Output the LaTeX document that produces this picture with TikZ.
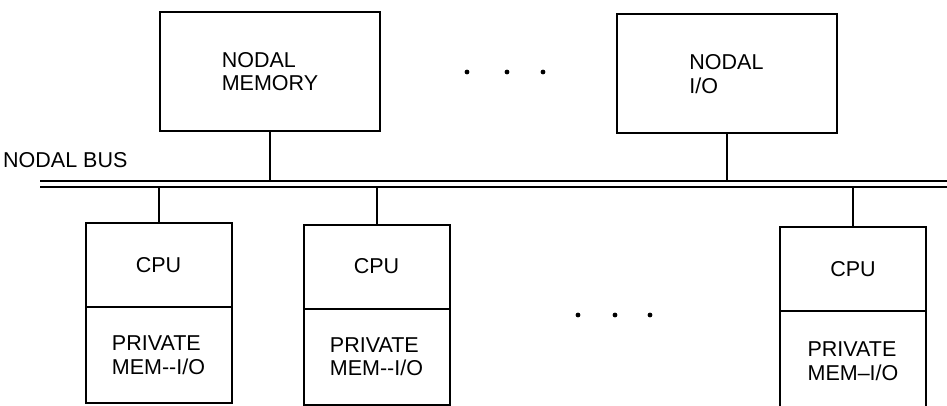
\documentclass[tikz,border=0pt]{standalone}
\usepackage{fontspec}
\setmainfont{Liberation Sans}
\usetikzlibrary{positioning}

\begin{document}
\begin{tikzpicture}[
  x=1pt, y=-1pt,
  every node/.style={font=\fontsize{21.5}{23.5}\selectfont},
  nodalbox/.style={
    rectangle, draw, line width=2pt, align=left,
    minimum width=220pt, minimum height=119pt
  },
  cpubox/.style={
    rectangle, draw, line width=2pt,
    minimum width=146pt, minimum height=84pt
  },
  membox/.style={
    rectangle, draw, line width=2pt, align=left,
    minimum width=146pt, minimum height=96pt
  },
  link/.style={line width=2pt},
  bus/.style={line width=2pt, double, double distance=4pt}
]
 \clip (0,0) rectangle (947,406);

 % Nodal bus
 \node[anchor=west, inner sep=0pt] (lbl) at (3,160) {NODAL BUS};
 \coordinate (busL) at (40,184);
 \coordinate (busR) at (947,184);

 % Top row -- nodal memory and nodal I/O
 \node[nodalbox] (nmem) at (270,71.5) {NODAL\\MEMORY};
 \node[nodalbox] (nio)  at (726.5,74) {NODAL\\I/O};

 % Bottom row -- processors with private memory
 \node[cpubox]                      (cpu1) at (158.5,265) {CPU};
 \node[membox, below=-2pt of cpu1]  (mem1) {PRIVATE\\MEM-{}-I/O};
 \node[cpubox]                      (cpu2) at (376.5,266.5) {CPU};
 \node[membox, below=-2pt of cpu2]  (mem2) {PRIVATE\\MEM-{}-I/O};
 \node[cpubox]                      (cpu3) at (853,269) {CPU};
 \node[membox, below=-2pt of cpu3, minimum height=100pt] (mem3) {PRIVATE\\MEM--I/O};

 \draw[link] (nmem) -- (nmem |- busL);
 \draw[link] (nio)  -- (nio |- busL);
 \draw[link] (cpu1) -- (cpu1 |- busL);
 \draw[link] (cpu2) -- (cpu2 |- busL);
 \draw[link] (cpu3) -- (cpu3 |- busL);
 \draw[bus] (busL) -- (busR);

 % more units
 \foreach \x in {467,507,543} \fill (\x,72) circle (2.4pt);
 \foreach \x in {578,615,650} \fill (\x,315) circle (2.4pt);
\end{tikzpicture}
\end{document}
